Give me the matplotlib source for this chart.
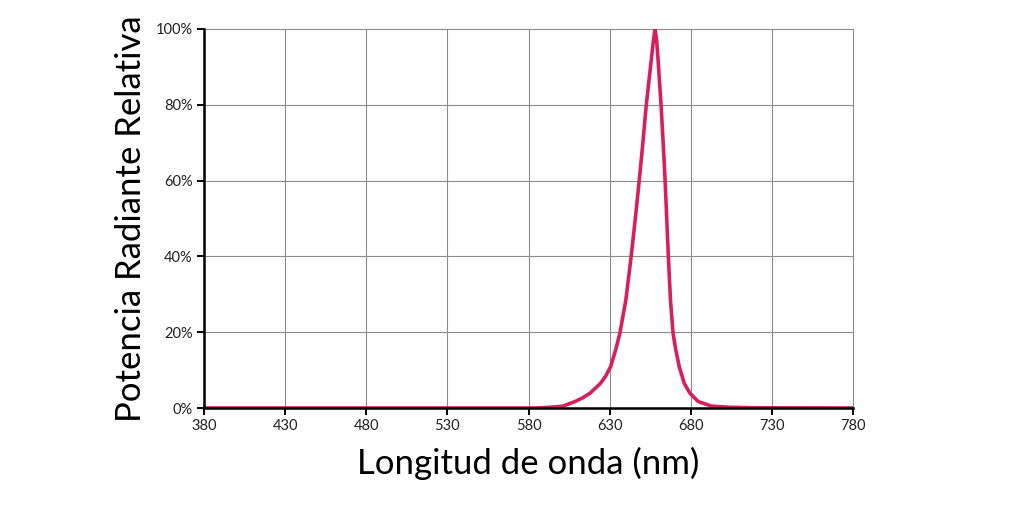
import matplotlib
matplotlib.use("Agg")
import matplotlib.pyplot as plt
from matplotlib.ticker import PercentFormatter

plt.rcParams['font.family'] = ['Lato', 'DejaVu Sans']

# spectrum (nm, % relative radiant power)
wavelength = [380, 585, 592, 601.4, 608.6, 613.5, 617.9, 624.4, 627.7, 630.6,
              633.7, 636.3, 640, 643, 645.6, 648, 650.4, 652.6, 655.2, 657,
              658, 659, 660, 661.7, 663, 664.2, 665.2, 666.2, 667.5, 669.1,
              670.8, 672.9, 676, 679.5, 684.6, 692.8, 704, 720, 780]
power = [0, 0, 0.15, 0.5, 1.7, 2.7, 3.9, 6.5, 8.5, 10.9,
         15.3, 19.7, 28.5, 39, 49, 59, 69.5, 80, 90, 97,
         100, 97, 91, 80, 70, 60, 50, 40, 28.5, 19.7,
         15.3, 10.9, 6.5, 3.9, 1.7, 0.5, 0.2, 0.05, 0]

x_ticks = list(range(380, 781, 50))
y_ticks = [0, 20, 40, 60, 80, 100]

fig = plt.figure(figsize=(10.24, 5.16), dpi=100)
ax = fig.add_axes([204 / 1024, 1 - 408 / 516, 649 / 1024, 379 / 516])

ax.plot(wavelength, power, color='#d81f5e', lw=2.6, solid_joinstyle='round', zorder=3)

ax.set_xlim(380, 780)
ax.set_ylim(0, 100)
ax.set_xticks(x_ticks)
ax.set_yticks(y_ticks)
ax.yaxis.set_major_formatter(PercentFormatter(decimals=0))
ax.grid(True, color='#8c8c8c', lw=0.8)
for line in ax.get_xgridlines() + ax.get_ygridlines():
    line.set_clip_on(False)

for side in ['top', 'right']:
    ax.spines[side].set_visible(False)
for side in ['left', 'bottom']:
    ax.spines[side].set_linewidth(1.8)
    ax.spines[side].set_color('black')
    ax.spines[side].set_zorder(4)

ax.tick_params(axis='both', length=5, width=1.4, color='black',
               labelsize=10.5, labelcolor='#222222', pad=3)

ax.set_xlabel('Longitud de onda (nm)', fontsize=25, labelpad=10)
ax.set_ylabel('Potencia Radiante Relativa', fontsize=25, labelpad=6)

fig.savefig('out.png', dpi=100, facecolor='white')
